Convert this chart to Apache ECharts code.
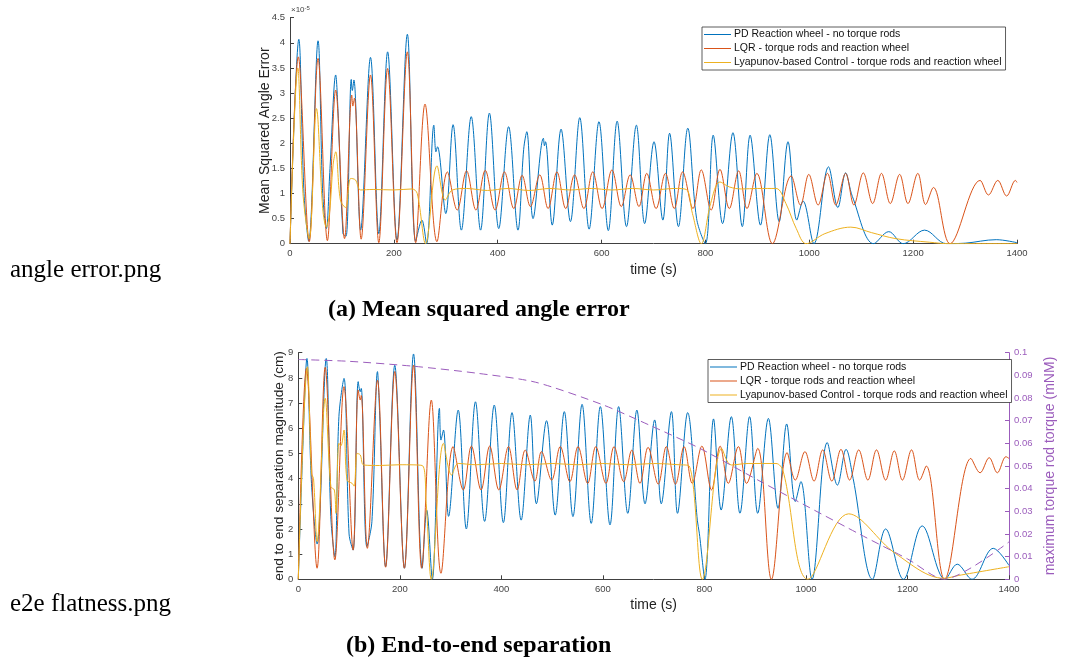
<!DOCTYPE html>
<html>
<head>
<meta charset="utf-8">
<script src="https://cdn.jsdelivr.net/npm/echarts@6/dist/echarts.min.js"></script>
<style>
  html, body { margin: 0; padding: 0; background: #fff; }
  #chart { width: 1065px; height: 664px; }
</style>
</head>
<body>
<div id="chart"></div>
<script>
// series names (shared by both panels)
const namePD = "PD Reaction wheel - no torque rods";
const nameLQR = "LQR - torque rods and reaction wheel";
const nameLyap = "Lyapunov-based Control - torque rods and reaction wheel";

// (a) mean squared angle error, [time s, value x 1e-5]
const pdAngle = [[0,0],[17,4.07],[27,1.0],[36,0.05],[54,4.04],[63,1.0],[70,0.3],[77,1.5],[88,3.36],[93,2.5],[102,0.2],[108,0.15],[118,3.27],[120,3.05],[123,3.26],[136,0.27],[155,3.71],[171,0.2],[188,3.82],[206,0.07],[226,4.17],[242,0.05],[254,0.47],[263,0],[277,2.36],[281,1.83],[284,1.93],[300,0.6],[314,2.37],[330,0.27],[349,2.53],[367,0.27],[384,2.6],[402,0.3],[421,2.33],[439,0.27],[450,1.88],[456,2.23],[468,0.5],[488,2.1],[490,1.95],[492,2.03],[505,0.37],[522,2.28],[540,0.44],[558,2.51],[576,0.29],[595,2.43],[613,0.26],[630,2.44],[648,0.34],[667,2.36],[683,0.4],[701,2.03],[718,0.47],[731,2.2],[748,0.34],[766,2.3],[783,0.5],[800,0],[815,2.16],[833,0.4],[853,2.21],[871,0.34],[886,2.16],[906,0.37],[924,2.17],[942,0.44],[959,2.03],[976,0.47],[988,0.85],[1009,0],[1037,1.53],[1055,0.72],[1070,1.41],[1083,0.94],[1124,0],[1153,0.24],[1181,0],[1222,0.27],[1264,0],[1300,0.01],[1360,0.08],[1400,0.02]];
const lqrAngle = [[0,0],[16,3.72],[37,0.04],[54,3.69],[72,0.06],[88,3.06],[105,0.1],[119,2.96],[121,2.74],[124,2.9],[137,0.09],[155,3.36],[171,0.02],[188,3.49],[206,0.02],[226,3.82],[242,0.02],[260,2.78],[283,0.04],[303,1.43],[322,0.67],[340,1.45],[358,0.67],[376,1.46],[395,0.67],[413,1.43],[431,0.7],[447,1.36],[463,0.74],[481,1.37],[497,0.7],[514,1.43],[531,0.7],[548,1.37],[566,0.7],[583,1.43],[601,0.7],[620,1.47],[638,0.74],[655,1.37],[672,0.74],[687,1.4],[705,0.7],[723,1.4],[740,0.7],[756,1.43],[776,0.7],[792,1.47],[811,0.67],[828,1.48],[846,0.7],[864,1.45],[880,0.7],[899,1.4],[929,0],[965,1.35],[983,0.77],[999,1.38],[1017,0.77],[1035,1.4],[1051,0.77],[1070,1.4],[1086,0.77],[1104,1.41],[1122,0.8],[1139,1.4],[1156,0.8],[1174,1.38],[1190,0.8],[1209,1.4],[1224,0.78],[1239,1.12],[1271,0],[1329,1.26],[1345,0.97],[1363,1.26],[1380,0.95],[1397,1.26],[1400,1.22]];
const lyapAngle = [[0,0],[15,3.5],[25,1.0],[37,0.1],[51,2.69],[63,0.7],[70,0.33],[76,0.6],[83,1.57],[88,1.83],[97,0.87],[107,0.72],[117,1.3],[126,1.27],[136,1.07],[160,1.08],[200,1.07],[235,1.09],[245,1.0],[261,0],[283,1.55],[299,0.87],[313,1.07],[340,1.1],[380,1.06],[420,1.1],[460,1.06],[500,1.1],[540,1.07],[580,1.1],[620,1.07],[660,1.1],[700,1.07],[740,1.1],[763,1.08],[775,0.6],[792,0],[810,0.8],[828,1.23],[846,1.13],[870,1.09],[900,1.1],[936,1.1],[955,0.8],[975,0.3],[994,0],[1030,0.2],[1080,0.33],[1120,0.22],[1167,0.1],[1231,0.03],[1270,0],[1400,0]];

// (b) end to end separation, [time s, cm]
const pdSep = [[0,0],[9,5.27],[17,8.77],[26,3.8],[37,1.4],[55,8.77],[64,2.5],[72,0.9],[80,6.46],[90,7.98],[100,1.8],[108,1.16],[118,7.85],[122,7.45],[124,7.58],[135,1.3],[145,2.3],[156,8.25],[160,6.7],[172,0.5],[190,8.5],[209,0.44],[227,8.95],[244,0.44],[253,2.75],[264,0],[278,6.79],[281,5.53],[286,5.93],[296,2.5],[315,6.72],[331,2.0],[349,7.05],[367,2.3],[386,6.92],[404,2.25],[421,6.62],[439,2.35],[457,6.52],[469,3.0],[489,6.3],[506,2.55],[524,6.66],[541,2.49],[559,6.95],[577,2.22],[595,6.86],[614,2.16],[631,6.86],[649,2.62],[667,6.72],[683,3.0],[702,6.33],[715,3.0],[735,6.66],[747,2.62],[767,6.62],[786,2.35],[790,1.83],[801,0],[818,6.37],[833,2.75],[853,6.46],[870,2.62],[889,6.46],[905,2.62],[926,6.39],[945,2.82],[962,6.17],[979,3.09],[990,3.88],[1012,0],[1042,5.43],[1062,3.74],[1079,5.16],[1093,4.0],[1131,0],[1157,2.0],[1192,0],[1229,2.12],[1274,0],[1298,0.6],[1327,0],[1369,1.23],[1400,0.55]];
const lqrSep = [[0,0],[16,8.38],[37,0.44],[53,8.42],[72,0.77],[90,7.65],[108,1.16],[118,7.52],[122,7.12],[124,7.3],[136,1.23],[156,7.91],[172,0.48],[190,8.25],[209,0.44],[227,8.51],[243,0.44],[262,7.12],[281,0.24],[305,5.27],[325,3.55],[341,5.29],[360,3.55],[377,5.29],[395,3.55],[414,5.27],[431,3.55],[447,5.13],[466,3.9],[479,5.07],[499,3.94],[516,5.27],[535,3.88],[551,5.27],[570,3.81],[586,5.27],[606,3.81],[622,5.27],[641,3.88],[657,5.13],[673,3.81],[689,5.24],[709,3.78],[725,5.27],[743,3.78],[760,5.27],[776,3.81],[795,5.29],[814,3.55],[831,5.29],[847,3.81],[867,5.27],[883,3.81],[905,5.2],[932,0],[963,5.03],[979,3.94],[998,5.07],[1016,3.9],[1033,5.14],[1051,3.9],[1069,5.16],[1086,3.94],[1104,5.14],[1122,3.94],[1139,5.14],[1157,3.94],[1174,5.1],[1190,3.94],[1208,5.14],[1224,3.94],[1237,4.5],[1273,0],[1325,4.8],[1343,4.23],[1361,4.83],[1377,4.23],[1394,4.87],[1400,4.8]];
const lyapSep = [[0,0],[18,8.44],[26,4.2],[30,4.0],[37,1.5],[53,7.19],[64,3.68],[71,3.55],[74,2.62],[80,5.4],[84,5.3],[90,5.93],[96,3.94],[106,3.81],[110,3.7],[116,5.0],[122,4.94],[129,4.54],[160,4.52],[200,4.55],[244,4.52],[252,3.0],[262,0],[286,5.4],[302,4.14],[315,4.6],[350,4.55],[400,4.6],[450,4.55],[500,4.6],[550,4.55],[600,4.6],[650,4.55],[700,4.6],[750,4.55],[770,4.5],[796,0],[834,5.2],[853,4.54],[886,4.6],[941,4.6],[955,4.3],[1004,0],[1084,2.6],[1176,1.03],[1272,0.04],[1300,0.15],[1400,0.5]];
// maximum torque rod torque (mNM), right axis
const torqueLimit = [[0,0.097],[100,0.0962],[228,0.094],[350,0.091],[467,0.087],[600,0.077],[692,0.068],[789,0.058],[912,0.043],[1105,0.02],[1200,0.009],[1272,0],[1400,0.0165]];

const blue = "#0072BD", orange = "#D95319", yellow = "#EDB120", purple = "#9b5cbc";
const axisCol = "#404040";
const sans = "Liberation Sans";
const serif = "Liberation Serif";

function xAx(grid) {
  return {
    type: "value", gridIndex: grid, min: 0, max: 1400, interval: 200,
    name: "time (s)", nameLocation: "middle", nameGap: 19, nameMoveOverlap: false,
    nameTextStyle: { fontFamily: sans, fontSize: 14, color: "#222" },
    axisLine: { lineStyle: { color: axisCol, width: 1 } },
    axisTick: { inside: true, length: 4, lineStyle: { color: axisCol } },
    axisLabel: { fontFamily: sans, fontSize: 9.5, color: "#444", margin: 5, formatter: (v) => String(v) },
    splitLine: { show: false },
  };
}

function yAx(grid, min, max, step, name, gap, size, color, pos) {
  return {
    type: "value", gridIndex: grid, position: pos, min: min, max: max, interval: step,
    name: name, nameLocation: "middle", nameGap: gap, nameRotate: 90, nameMoveOverlap: false,
    nameTextStyle: { fontFamily: sans, fontSize: size, color: color === axisCol ? "#222" : color },
    axisLine: { show: true, lineStyle: { color: color } },
    axisTick: { show: true, inside: true, length: 4, lineStyle: { color: color } },
    axisLabel: { fontFamily: sans, fontSize: 9.5, color: color === axisCol ? "#444" : color, margin: 5,
      formatter: (v) => String(+v.toFixed(2)) },
    splitLine: { show: false },
  };
}

function lineSeries(name, color, data, xi, yi) {
  return {
    name: name, type: "line", data: data, xAxisIndex: xi, yAxisIndex: yi,
    showSymbol: false, smooth: 0.35, color: color,
    lineStyle: { color: color, width: 1 },
  };
}

function legendAt(left, top) {
  return {
    data: [namePD, nameLQR, nameLyap], left: left, top: top, orient: "vertical",
    icon: "rect", itemWidth: 27, itemHeight: 1, itemGap: 3,
    padding: [2, 4, 2, 2], borderColor: "#333", borderWidth: 0.8,
    backgroundColor: "#fff", selectedMode: false,
    textStyle: { fontFamily: sans, fontSize: 10.5, color: "#111", padding: [0, 0, 0, -2] },
  };
}

const chart = echarts.init(document.getElementById("chart"));
chart.setOption({
  animation: false,
  backgroundColor: "#fff",
  grid: [
    { left: 290, top: 17.7, width: 727, height: 226 },
    { left: 298.3, top: 352.7, width: 724.4, height: 226.6 },
  ],
  xAxis: [xAx(0), xAx(1)],
  yAxis: [
    yAx(0, 0, 4.5, 0.5, "Mean Squared Angle Error", 18, 14, axisCol, "left"),
    yAx(1, 0, 9, 1, "end to end separation magnitude (cm)", 12.5, 13.6, axisCol, "left"),
    yAx(1, 0, 0.1, 0.01, "maximum torque rod torque (mNM)", 34, 14, purple, "right"),
  ],
  legend: [legendAt(702, 27), legendAt(708, 359.5)],
  series: [
    lineSeries(namePD, blue, pdAngle, 0, 0),
    lineSeries(nameLQR, orange, lqrAngle, 0, 0),
    lineSeries(nameLyap, yellow, lyapAngle, 0, 0),
    lineSeries(namePD, blue, pdSep, 1, 1),
    lineSeries(nameLQR, orange, lqrSep, 1, 1),
    lineSeries(nameLyap, yellow, lyapSep, 1, 1),
    {
      name: "torque limit", type: "line", data: torqueLimit, xAxisIndex: 1, yAxisIndex: 2,
      showSymbol: false, smooth: 0.25, color: purple,
      lineStyle: { color: purple, width: 1, type: [8, 5] },
    },
  ],
  graphic: [
    { type: "text", left: 291, top: 5,
      style: { text: "{a|×10}{b|-5}", rich: { a: { fontFamily: sans, fontSize: 8, fill: "#444" }, b: { fontFamily: sans, fontSize: 6, fill: "#444", verticalAlign: "top", padding: [0, 0, 4, 0] } } } },
    { type: "text", left: 10, top: 258,
      style: { text: "angle error.png", fontFamily: serif, fontSize: 25, fill: "#000" } },
    { type: "text", left: 10, top: 592,
      style: { text: "e2e flatness.png", fontFamily: serif, fontSize: 25, fill: "#000" } },
    { type: "text", left: 328, top: 298,
      style: { text: "(a) Mean squared angle error", fontFamily: serif, fontWeight: "bold", fontSize: 24, fill: "#000" } },
    { type: "text", left: 346, top: 634,
      style: { text: "(b) End-to-end separation", fontFamily: serif, fontWeight: "bold", fontSize: 24, fill: "#000" } },
  ],
});
</script>
</body>
</html>
